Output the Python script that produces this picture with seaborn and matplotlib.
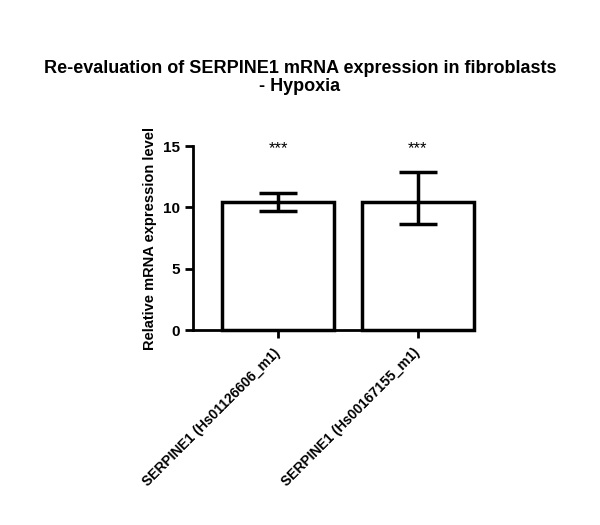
import pandas as pd
import matplotlib.pyplot as plt
import seaborn as sns

# Data
probes = ['SERPINE1 (Hs01126606_m1)', 'SERPINE1 (Hs00167155_m1)']
mean_expr = [10.47, 10.4]
err_low = [0.77, 1.76]
err_high = [0.72, 2.45]
signif = ['***', '***']
y_ticks = [0, 5, 10, 15]

sns.set_theme(style="ticks")
plt.rcParams['font.family'] = ['Liberation Sans', 'DejaVu Sans']
plt.rcParams['font.weight'] = 'bold'
plt.rcParams['text.color'] = 'black'
plt.rcParams['axes.labelcolor'] = 'black'
plt.rcParams['xtick.color'] = 'black'
plt.rcParams['ytick.color'] = 'black'

df = pd.DataFrame({'probe': probes, 'expr': mean_expr})

fig = plt.figure(figsize=(6, 5.25), dpi=100)
ax = fig.add_axes([0.322, 0.3714, 0.466, 0.3505])

sns.barplot(data=df, x='probe', y='expr', color='white', edgecolor='black',
            linewidth=2.5, width=0.8, errorbar=None, ax=ax)
for p in ax.patches:
    p.set_clip_on(False)
ax.errorbar(range(len(probes)), mean_expr, yerr=[err_low, err_high], fmt='none',
            ecolor='black', elinewidth=2.5, capsize=14, capthick=2.5)

for i, s in enumerate(signif):
    ax.text(i, 14.75, s, ha='center', va='center', fontsize=12, fontweight='normal')

ax.set_xlim(-0.607, 1.393)
ax.set_ylim(0, 15)
ax.set_yticks(y_ticks)
ax.set_xlabel('')
ax.set_ylabel('Relative mRNA expression level', fontsize=10.5, fontweight='bold')
ax.set_xticks(range(len(probes)))
ax.set_xticklabels(probes, rotation=45, ha='right', va='center',
                   rotation_mode='anchor', fontsize=10, fontweight='bold')
for lab in ax.get_yticklabels():
    lab.set_fontweight('bold')
    lab.set_fontsize(11)
ax.tick_params(axis='both', width=2, length=6, color='black')
ax.tick_params(axis='x', pad=9)
for side in ['left', 'bottom']:
    ax.spines[side].set_linewidth(2)
    ax.spines[side].set_color('black')
sns.despine(ax=ax)

fig.text(0.5, 0.853, 'Re-evaluation of SERPINE1 mRNA expression in fibroblasts\n- Hypoxia',
         ha='center', va='center', fontsize=13, fontweight='bold', linespacing=1.1)

fig.savefig('out.png', dpi=100, facecolor='white')
